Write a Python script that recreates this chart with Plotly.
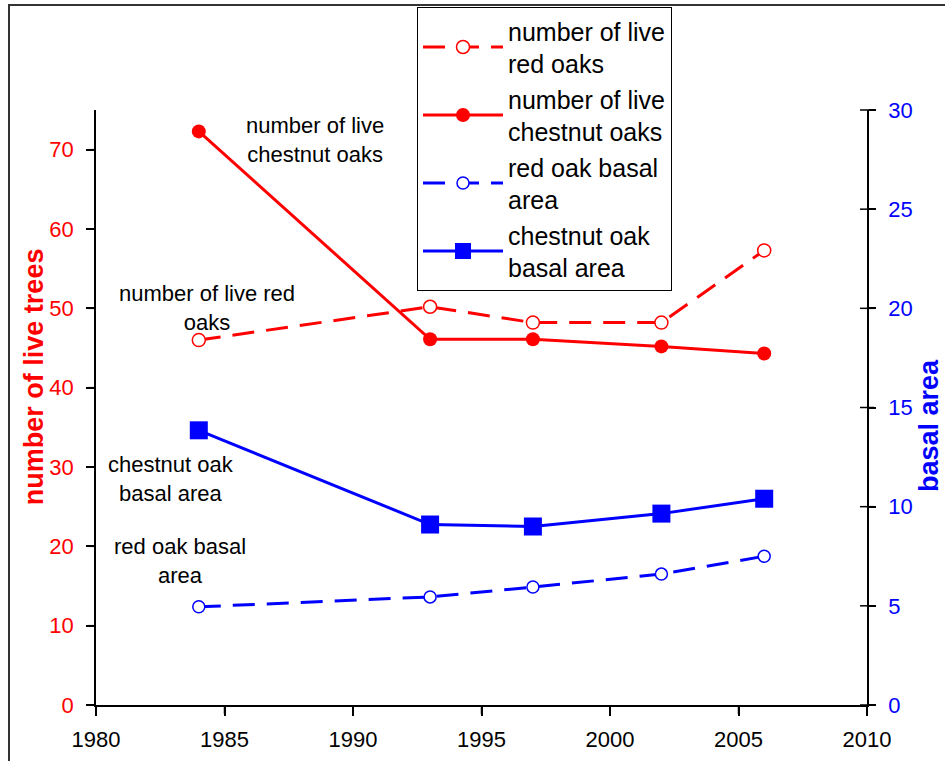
import plotly.graph_objects as go

years = [1984, 1993, 1997, 2002, 2006]
red_oak_count = [46.0, 50.2, 48.2, 48.2, 57.3]
chestnut_oak_count = [72.3, 46.1, 46.1, 45.2, 44.3]
red_oak_basal = [4.95, 5.45, 5.95, 6.6, 7.5]
chestnut_oak_basal = [13.85, 9.1, 9.0, 9.65, 10.4]

x_ticks = [1980, 1985, 1990, 1995, 2000, 2005, 2010]
left_ticks = [0, 10, 20, 30, 40, 50, 60, 70]
right_ticks = [0, 5, 10, 15, 20, 25, 30]

X_RANGE = [1980, 2010]
LEFT_RANGE = [0, 75]
RIGHT_RANGE = [0, 30]

RED = "#ff0000"
BLUE = "#0000ff"
FONT = "Arial, Liberation Sans, sans-serif"

PLOT_W, PLOT_H = 771, 595

fig = go.Figure()
fig.add_trace(go.Scatter(
    x=years, y=red_oak_count, name="number of live<br>red oaks", yaxis="y",
    mode="lines+markers",
    line=dict(color=RED, width=3, dash="22px,12px"),
    marker=dict(symbol="circle", size=13, color="white", line=dict(color=RED, width=1.5)),
))
fig.add_trace(go.Scatter(
    x=years, y=chestnut_oak_count, name="number of live<br>chestnut oaks", yaxis="y",
    mode="lines+markers",
    line=dict(color=RED, width=3),
    marker=dict(symbol="circle", size=14, color=RED, line=dict(color=RED, width=0)),
))
fig.add_trace(go.Scatter(
    x=years, y=red_oak_basal, name="red oak basal<br>area", yaxis="y2",
    mode="lines+markers",
    line=dict(color=BLUE, width=3, dash="22px,12px"),
    marker=dict(symbol="circle", size=12, color="white", line=dict(color=BLUE, width=1.5)),
))
fig.add_trace(go.Scatter(
    x=years, y=chestnut_oak_basal, name="chestnut oak<br>basal area", yaxis="y2",
    mode="lines+markers",
    line=dict(color=BLUE, width=3),
    marker=dict(symbol="square", size=18, color=BLUE, line=dict(color=BLUE, width=0)),
))

annotations = [
    dict(x=1988.52, y=71.2, xref="x", yref="y", text="number of live<br>chestnut oaks"),
    dict(x=1984.3, y=50.1, xref="x", yref="y", text="number of live red<br>oaks"),
    dict(x=1982.92, y=28.55, xref="x", yref="y", text="chestnut oak<br>basal area"),
    dict(x=1983.27, y=18.15, xref="x", yref="y", text="red oak basal<br>area"),
]
for a in annotations:
    a.update(showarrow=False, align="center", xanchor="center", yanchor="middle",
             font=dict(family=FONT, size=22, color="black"))

annotations.append(dict(x=-0.0804, y=0.551, xref="paper", yref="paper", text="<b>number of live trees</b>",
                        textangle=-90, showarrow=False, xanchor="center", yanchor="middle",
                        font=dict(family=FONT, size=27, color=RED)))
annotations.append(dict(x=1.0804, y=0.4706, xref="paper", yref="paper", text="<b>basal area</b>",
                        textangle=-90, showarrow=False, xanchor="center", yanchor="middle",
                        font=dict(family=FONT, size=27, color=BLUE)))

TICK = dict(color="black", width=1.5)
# outer frame
shapes = [dict(type="rect", xref="paper", yref="paper",
               x0=(9 - 96) / PLOT_W, x1=(960 - 96) / PLOT_W,
               y0=(705 - 780) / PLOT_H, y1=(705 - 5) / PLOT_H,
               line=dict(color="#333333", width=2), fillcolor="rgba(0,0,0,0)", layer="below")]
# crossing ticks on the right axis
for t in right_ticks:
    f = (t - RIGHT_RANGE[0]) / (RIGHT_RANGE[1] - RIGHT_RANGE[0])
    shapes.append(dict(type="line", xref="paper", yref="paper", x0=1 - 7 / PLOT_W, x1=1 + 7 / PLOT_W,
                       y0=f, y1=f, line=TICK))
# outside ticks on the left axis
for t in left_ticks:
    f = (t - LEFT_RANGE[0]) / (LEFT_RANGE[1] - LEFT_RANGE[0])
    shapes.append(dict(type="line", xref="paper", yref="paper", x0=-8 / PLOT_W, x1=0,
                       y0=f, y1=f, line=TICK))
# outside ticks on the bottom axis
for t in x_ticks:
    f = (t - X_RANGE[0]) / (X_RANGE[1] - X_RANGE[0])
    shapes.append(dict(type="line", xref="paper", yref="paper", x0=f, x1=f,
                       y0=-9 / PLOT_H, y1=0, line=TICK))

fig.update_layout(
    width=945, height=761,
    margin=dict(l=96, r=78, t=110, b=56, autoexpand=False),
    paper_bgcolor="white", plot_bgcolor="white",
    font=dict(family=FONT, color="black"),
    showlegend=True,
    legend=dict(x=(417 - 96) / PLOT_W, y=(705 - 7) / PLOT_H,
                xanchor="left", yanchor="top",
                bgcolor="white", bordercolor="black", borderwidth=1,
                font=dict(family=FONT, size=25, color="black"),
                itemwidth=80, tracegroupgap=0),
    xaxis=dict(range=X_RANGE, tickmode="array", tickvals=x_ticks,
               showgrid=False, zeroline=False, showline=True, linecolor="black", linewidth=1.5,
               ticks="outside", ticklen=9, tickcolor="black", tickwidth=1.5, ticklabelstandoff=5,
               tickfont=dict(family=FONT, size=22, color="black")),
    yaxis=dict(range=LEFT_RANGE, tickmode="array", tickvals=left_ticks,
               showgrid=False, zeroline=False, showline=True, linecolor="black", linewidth=1.5,
               ticks="outside", ticklen=8, tickcolor="black", tickwidth=1.5, ticklabelstandoff=8,
               tickfont=dict(family=FONT, size=22, color=RED)),
    yaxis2=dict(range=RIGHT_RANGE, tickmode="array", tickvals=right_ticks, overlaying="y", side="right",
                anchor="x",
                showgrid=False, zeroline=False, showline=True, linecolor="black", linewidth=1.5,
                ticks="outside", ticklen=7, tickcolor="black", tickwidth=1.5, ticklabelstandoff=8,
                tickfont=dict(family=FONT, size=22, color=BLUE)),
    annotations=annotations,
    shapes=shapes,
)

fig.write_html("out.html", config={"displayModeBar": False},
               post_script="document.body.style.margin='0px';document.body.style.overflow='hidden';")
